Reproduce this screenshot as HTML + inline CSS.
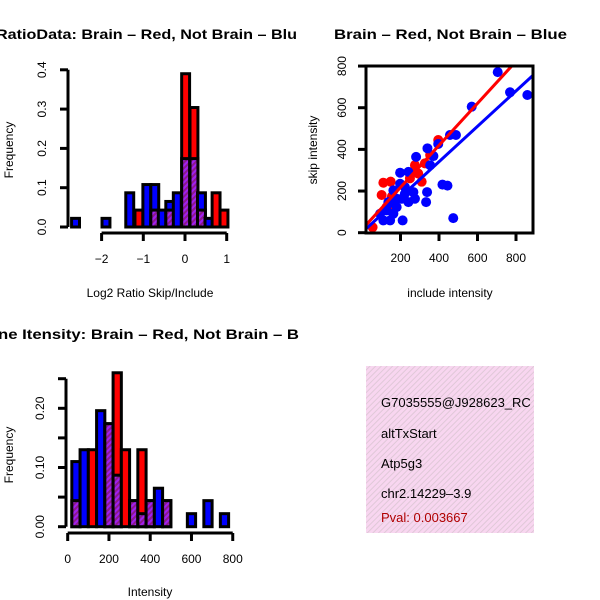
<!DOCTYPE html>
<html><head><meta charset="utf-8"><style>
body{margin:0;background:#fff}
svg{display:block;font-family:"Liberation Sans",sans-serif}
</style></head><body>
<svg id="c" width="600" height="600" viewBox="0 0 600 600">
<defs>
<pattern id="hatch" width="4" height="4" patternUnits="userSpaceOnUse" patternTransform="rotate(45)">
<rect width="4" height="4" fill="#a020f0"/><rect width="2" height="4" fill="#8b1a8b"/></pattern>
<pattern id="pink" width="4" height="4" patternUnits="userSpaceOnUse" patternTransform="rotate(45)">
<rect width="4" height="4" fill="#f8d6f0"/><rect width="1" height="4" fill="#e0c8d8"/></pattern>
<clipPath id="boxclip"><rect x="366" y="66" width="167" height="167"/></clipPath>
<clipPath id="leftclip"><rect x="0" y="0" width="300" height="600"/></clipPath>
<clipPath id="infoclip"><rect x="366" y="366" width="168" height="167"/></clipPath>
</defs>
<g clip-path="url(#leftclip)">
<text x="-4" y="39" font-size="14" font-weight="bold" textLength="301" lengthAdjust="spacingAndGlyphs">RatioData: Brain – Red, Not Brain – Blu</text>
<text x="-2" y="339" font-size="14" font-weight="bold" textLength="301" lengthAdjust="spacingAndGlyphs">ne Itensity: Brain – Red, Not Brain – B</text>
</g>
<text x="334" y="39" font-size="14" font-weight="bold" textLength="233" lengthAdjust="spacingAndGlyphs">Brain – Red, Not Brain – Blue</text>
<g id="h1"></g>
<g id="sc"></g>
<g id="h2"></g>
<g>
<rect x="366" y="366" width="168" height="167" fill="url(#pink)"/>
<g clip-path="url(#infoclip)" font-size="13">
<text x="381" y="407">G7035555@J928623_RC</text>
<text x="381" y="438">altTxStart</text>
<text x="381" y="468">Atp5g3</text>
<text x="381" y="498">chr2.14229–3.9</text>
<text x="381" y="522" fill="#b00000">Pval: 0.003667</text>
</g></g>
</svg>
<script>
// Ratio histogram data
const ratioBins = [-2.72,-1.99,-1.42,-1.20,-1.01,-0.82,-0.64,-0.46,-0.28,-0.08,0.12,0.30,0.48,0.65,0.84];
const ratioBlue = [0.022,0.022,0.087,0,0.108,0.108,0.043,0.065,0.087,0.174,0.174,0.087,0.022,0,0];
const ratioRed  = [0,0,0,0.043,0,0.043,0,0.043,0,0.39,0.304,0.043,0,0.087,0.043];
const ratioXTicks = [-2,-1,0,1];
const ratioYTicks = [0,0.1,0.2,0.3,0.4];
// Intensity histogram data
const intBins = [20,60,100,140,180,220,260,300,340,380,420,460,580,660,740];
const intBlue = [0.11,0.13,0,0.196,0.174,0.087,0,0.044,0.022,0.044,0.065,0.044,0.022,0.044,0.022];
const intRed  = [0.044,0,0.13,0,0.174,0.26,0.13,0.044,0.13,0.044,0,0.044,0,0,0];
const intXTicks = [0,200,400,600,800];
const intYTicks = [0,0.05,0.10,0.15,0.20,0.25];
const intYLabels = ["0.00","","0.10","","0.20",""];
// Scatter data
const blueX = [705,769,859,570,488,457,396,340,371,354,281,241,198,418,444,338,333,474,211,163,198,241,275,267,223,180,137,128,94,111,146,163,180,206,223];
const blueY = [771,674,661,605,469,469,426,405,368,324,364,292,288,231,226,195,147,70,59,203,235,147,163,195,187,163,147,107,91,59,59,91,123,163,219];
const redX = [55,102,111,149,128,171,249,275,292,310,327,354,396,275,155];
const redY = [26,181,240,245,123,123,261,324,284,245,333,373,445,300,173];
const fitRed = [16,1.008];
const fitBlue = [0.6,0.85];
const scXTicks = [200,400,600,800];
const scYTicks = [0,200,400,600,800];

const NS="http://www.w3.org/2000/svg";
function mk(parent,tag,attrs){const e=document.createElementNS(NS,tag);for(const k in attrs)e.setAttribute(k,attrs[k]);parent.appendChild(e);return e;}

function hist(g,bins,bw,blue,red,xs,ys,xTicks,yTicks,yLabels,axY,axX,xlab,xlabY,prefix){
  for(let i=0;i<bins.length;i++){
    const b=blue[i],r=red[i];const mx=Math.max(b,r),mn=Math.min(b,r);
    if(mx<=0)continue;
    const x0=xs(bins[i]),x1=xs(bins[i]+bw);
    const top=mk(g,'rect',{x:x0,y:ys(mx),width:x1-x0,height:ys(0)-ys(mx),fill:b>=r?'#0000ff':'#ff0000',stroke:'#000','stroke-width':3});
    
    
    if(mn>0){const o=mk(g,'rect',{x:x0,y:ys(mn),width:x1-x0,height:ys(0)-ys(mn),fill:'url(#hatch)',stroke:'#000','stroke-width':3});
      
      }
  }
  const ya=mk(g,'line',{x1:axX,x2:axX,y1:ys(yTicks[0]),y2:ys(yTicks[yTicks.length-1]),stroke:'#000','stroke-width':3});
  
  
  yTicks.forEach((t,i)=>{mk(g,'line',{x1:axX-8,x2:axX,y1:ys(t),y2:ys(t),stroke:'#000','stroke-width':3});
    const lb=yLabels?yLabels[i]:t.toFixed(1);
    if(lb){const tx=mk(g,'text',{x:axX-22,y:ys(t),'font-size':12,'text-anchor':'middle',transform:`rotate(-90 ${axX-22} ${ys(t)})`});tx.textContent=lb;
      
      }});
  const xa=mk(g,'line',{x1:xs(xTicks[0]),x2:xs(xTicks[xTicks.length-1]),y1:axY,y2:axY,stroke:'#000','stroke-width':3});
  
  
  xTicks.forEach(t=>{mk(g,'line',{x1:xs(t),x2:xs(t),y1:axY,y2:axY+8,stroke:'#000','stroke-width':3});
    const tx=mk(g,'text',{x:xs(t),y:axY+30,'font-size':12,'text-anchor':'middle'});tx.textContent=String(t).replace('-','−');
    
    });
  const xl=mk(g,'text',{x:150,y:xlabY,'font-size':12,'text-anchor':'middle'});xl.textContent=xlab;
  
  
}

// top-left
const h1=document.getElementById('h1');
const x1=v=>185+41.7*v, y1=v=>227-393*v;
hist(h1,ratioBins,0.19,ratioBlue,ratioRed,x1,y1,ratioXTicks,ratioYTicks,null,233,68,'Log2 Ratio Skip/Include',297,'ratio');
let t=mk(h1,'text',{x:13,y:150,'font-size':12,'text-anchor':'middle',transform:'rotate(-90 13 150)'});t.textContent='Frequency';



// bottom-left
const h2=document.getElementById('h2');
const x2=v=>67.7+0.2063*v, y2=v=>526.7-592*v;
hist(h2,intBins,40,intBlue,intRed,x2,y2,intXTicks,intYTicks,intYLabels,533,66,'Intensity',596,'intensity');
t=mk(h2,'text',{x:13,y:455,'font-size':12,'text-anchor':'middle',transform:'rotate(-90 13 455)'});t.textContent='Frequency';



// scatter
const sc=document.getElementById('sc');
const sx=v=>362+0.1925*v, sy=v=>232.7-0.2083*v;
const pg=mk(sc,'g',{'clip-path':'url(#boxclip)'});
redX.forEach((v,i)=>{const c=mk(pg,'circle',{cx:sx(v),cy:sy(redY[i]),r:5,fill:'#ff0000'});
  
  });
blueX.forEach((v,i)=>{const c=mk(pg,'circle',{cx:sx(v),cy:sy(blueY[i]),r:5,fill:'#0000ff'});
  
  });
let ln=mk(pg,'line',{x1:sx(0),y1:sy(fitBlue[0]),x2:sx(1000),y2:sy(fitBlue[0]+fitBlue[1]*1000),stroke:'#0000ff','stroke-width':3});


ln=mk(pg,'line',{x1:sx(0),y1:sy(fitRed[0]),x2:sx(1000),y2:sy(fitRed[0]+fitRed[1]*1000),stroke:'#ff0000','stroke-width':3});


const bx=mk(sc,'rect',{x:366,y:66,width:167,height:167,fill:'none',stroke:'#000','stroke-width':3});


scXTicks.forEach(v=>{mk(sc,'line',{x1:sx(v),x2:sx(v),y1:233,y2:241,stroke:'#000','stroke-width':3});
  const tx=mk(sc,'text',{x:sx(v),y:262,'font-size':12,'text-anchor':'middle'});tx.textContent=v;
  
  });
scYTicks.forEach(v=>{mk(sc,'line',{x1:358,x2:366,y1:sy(v),y2:sy(v),stroke:'#000','stroke-width':3});
  const tx=mk(sc,'text',{x:346,y:sy(v),'font-size':12,'text-anchor':'middle',transform:`rotate(-90 346 ${sy(v)})`});tx.textContent=v;
  
  });
t=mk(sc,'text',{x:450,y:297,'font-size':12,'text-anchor':'middle'});t.textContent='include intensity';


t=mk(sc,'text',{x:317,y:150,'font-size':12,'text-anchor':'middle',transform:'rotate(-90 317 150)'});t.textContent='skip intensity';


</script>
</body></html>
